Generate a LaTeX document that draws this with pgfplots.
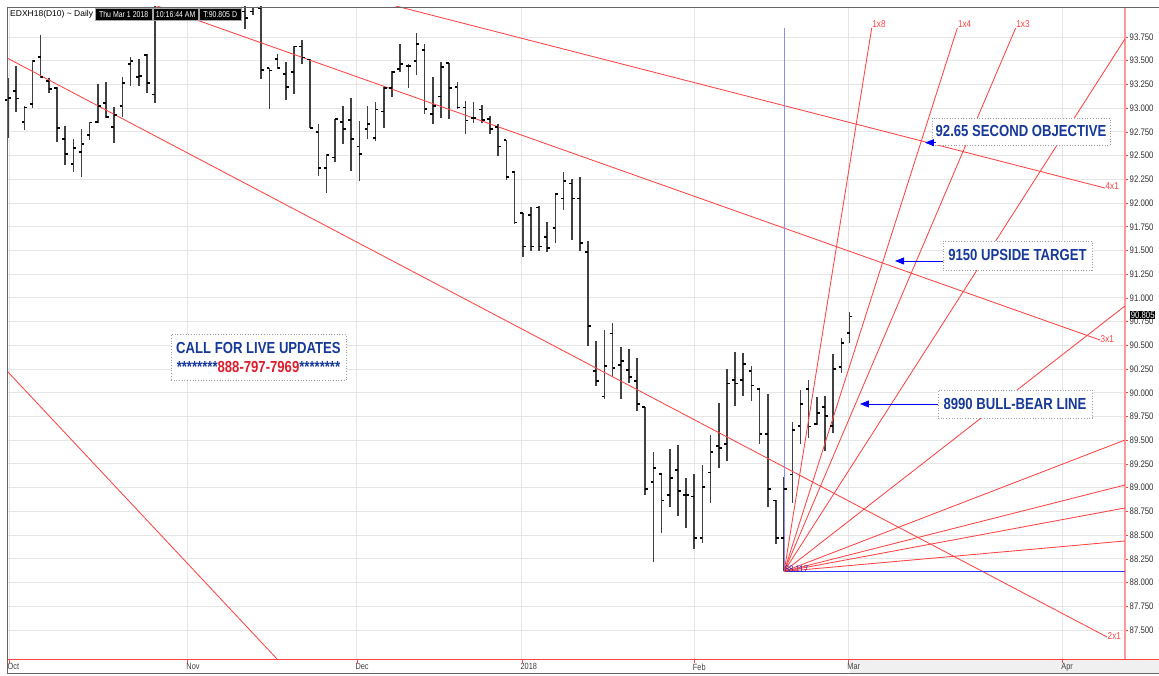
\documentclass[border=0pt]{standalone}
\usepackage{fontspec}
\setmainfont{Liberation Sans}
\newfontfamily\narrowfont[FakeStretch=0.82]{Liberation Sans}
\usepackage{pgfplots}
\pgfplotsset{compat=1.18}
\usepackage{pgfplotstable}
\usetikzlibrary{arrows.meta}

\definecolor{barcol}{HTML}{404040}
\definecolor{fanred}{HTML}{FF4444}
\definecolor{gridgray}{HTML}{E6E6E6}
\definecolor{navy}{HTML}{16399A}
\definecolor{phonered}{HTML}{DD1E2C}
\definecolor{bluev}{HTML}{8C8CF0}
\definecolor{blueh}{HTML}{3434FF}
\definecolor{framegray}{HTML}{666666}

\pgfdeclareplotmark{ohlcopen}{\pgfpathmoveto{\pgfqpoint{-2.8pt}{0pt}}\pgfpathlineto{\pgfqpoint{0pt}{0pt}}\pgfusepathqstroke}
\pgfdeclareplotmark{ohlcclose}{\pgfpathmoveto{\pgfqpoint{0pt}{0pt}}\pgfpathlineto{\pgfqpoint{2.8pt}{0pt}}\pgfusepathqstroke}

\pgfplotstableread{
x o h l c
0 93.086 93.318 92.685 93.107
1 93.181 93.444 92.960 93.097
2 92.854 93.023 92.770 93.002
3 93.044 93.508 93.002 93.497
4 93.539 93.771 93.318 93.328
5 93.286 93.318 93.160 93.202
6 93.212 93.223 92.643 92.791
7 92.675 92.812 92.401 92.517
8 92.411 92.675 92.327 92.580
9 92.538 92.780 92.274 92.622
10 92.717 92.854 92.664 92.844
11 92.854 93.255 92.844 93.023
12 93.054 93.276 92.896 92.907
13 92.801 93.012 92.633 92.928
14 93.023 93.328 92.907 93.265
15 93.465 93.539 93.234 93.497
16 93.328 93.518 93.234 93.339
17 93.560 93.571 93.160 93.265
18 93.139 94.350 93.054 93.950
29 94.014 94.300 93.834 93.950
30 94.014 94.066 93.982 94.056
31 94.050 94.250 93.307 93.402
32 93.423 93.423 92.991 93.392
33 93.518 93.571 93.413 93.423
34 93.360 93.487 93.086 93.223
35 93.381 93.655 93.149 93.645
36 93.645 93.718 93.465 93.529
37 93.508 93.518 92.791 92.791
38 92.749 92.833 92.285 92.369
39 92.369 92.517 92.106 92.506
40 92.475 92.886 92.433 92.886
41 92.854 93.023 92.622 92.780
42 92.875 93.107 92.338 92.675
43 92.591 92.865 92.232 92.517
44 92.780 93.023 92.675 92.833
45 92.685 93.065 92.654 92.981
46 92.960 93.223 92.791 93.212
47 93.212 93.392 93.118 93.381
48 93.413 93.676 93.381 93.465
49 93.444 93.465 93.212 93.444
50 93.497 93.792 93.350 93.676
51 93.613 93.676 92.938 92.991
52 92.938 93.328 92.833 93.023
53 93.118 93.487 92.896 93.434
54 93.476 93.476 92.886 93.212
55 93.223 93.276 92.991 93.002
56 93.002 93.075 92.728 92.865
57 92.896 93.065 92.844 92.896
58 92.981 93.033 92.844 92.875
59 92.886 92.918 92.728 92.780
60 92.801 92.833 92.496 92.591
61 92.664 92.664 92.243 92.274
62 92.327 92.338 91.779 91.790
63 91.895 91.895 91.431 91.537
64 91.874 91.958 91.494 91.537
65 91.948 91.969 91.494 91.537
66 91.642 91.800 91.484 91.526
67 91.737 92.106 91.579 92.095
68 92.043 92.327 91.927 92.232
69 92.201 92.253 91.610 92.043
70 92.043 92.274 91.494 91.579
71 91.484 91.600 90.493 90.704
72 90.230 90.546 90.072 90.124
73 89.956 90.662 89.935 90.282
74 90.620 90.736 90.166 90.261
75 90.293 90.483 89.935 90.335
76 90.240 90.462 90.103 90.166
77 90.124 90.367 89.808 89.882
78 89.850 89.850 88.923 88.986
79 89.060 89.376 88.217 89.207
80 89.144 89.144 88.522 88.860
81 88.923 89.408 88.796 89.102
82 89.186 89.450 88.701 88.965
83 88.923 89.102 88.575 88.923
84 88.902 89.144 88.354 88.469
85 88.469 89.239 88.417 89.007
86 89.155 89.555 88.838 89.376
87 89.439 89.892 89.207 89.418
88 89.460 90.251 89.281 90.093
89 90.135 90.430 89.861 90.093
90 90.135 90.419 89.966 90.303
91 90.230 90.282 89.913 90.072
92 90.040 90.040 89.460 89.566
93 89.566 89.987 88.796 88.986
94 88.860 88.870 88.406 88.469
95 88.469 89.112 88.117 88.986
96 89.134 89.692 88.838 89.608
97 89.650 90.029 89.460 89.882
98 90.040 90.135 89.523 89.640
99 89.671 89.956 89.661 89.787
100 89.850 89.966 89.387 89.755
101 89.650 90.409 89.576 90.251
102 90.272 90.578 90.209 90.525
103 90.630 90.852 90.525 90.805
}\ohlc

\begin{document}
\begin{tikzpicture}[x=1pt,y=1pt]
\useasboundingbox (0,0) rectangle (1159,675);
\fill[white] (0,0) rectangle (1159,675);
\fill[gray!12] (850,1.5) rectangle (1159,15.5);
\begin{axis}[
  at={(7pt,16pt)}, anchor=south west,
  scale only axis, width=1118pt, height=652pt,
  xmin=-0.122, xmax=136.72, ymin=87.194, ymax=94.066,
  axis x line*=bottom, axis y line*=right,
  x axis line style={draw=fanred, line width=0.8pt},
  y axis line style={draw=fanred!55, line width=1.6pt},
  tick align=outside, major tick length=3.5pt,
  tick style={draw=fanred, line width=0.6pt},
  xtick={0.12,22.0,42.7,62.9,84.0,102.9,129.1},
  xticklabels={Oct,Nov,Dec,2018,Feb,Mar,Apr},
  xticklabel style={anchor=north west, xshift=-2.5pt, font=\narrowfont\fontsize{9}{9}\selectfont, text=black!75, inner sep=1pt},
  ytick={87.5,87.75,...,93.8},
  yticklabel style={anchor=west, font=\narrowfont\fontsize{9.5}{9.5}\selectfont, text=black!80, inner sep=1pt},
  /pgf/number format/fixed, /pgf/number format/fixed zerofill,
  /pgf/number format/precision=3, /pgf/number format/assume math mode=true,
  scaled y ticks=false,
  grid=major, major grid style={draw=gridgray, line width=0.9pt},
]
% OHLC bars
\addplot[draw=none, mark=none, forget plot,
  error bars/.cd, y dir=plus, y explicit, error mark=none,
  error bar style={draw=barcol, line width=1.6pt, solid}]
  table[x=x, y=l, y error expr=\thisrow{h}-\thisrow{l}] {\ohlc};
\addplot[only marks, mark=ohlcopen, mark options={draw=black, line width=1.1pt}, forget plot] table[x=x, y=o] {\ohlc};
\addplot[only marks, mark=ohlcclose, mark options={draw=black, line width=1.1pt}, forget plot] table[x=x, y=c] {\ohlc};

% descending trend lines
\addplot[fanred, line width=0.85pt] coordinates {(40,94.242) (134.27,92.158)};
\addplot[fanred, line width=0.85pt] coordinates {(15,94.176) (133.66,90.556)};
\addplot[fanred, line width=0.85pt] coordinates {(-0.122,93.529) (134.52,87.426)};
\addplot[fanred, line width=0.85pt] coordinates {(-0.122,90.230) (34,87.096)};

% blue guide lines
\addplot[bluev, line width=0.9pt] coordinates {(95,93.845) (95,88.117)};
\addplot[blueh, line width=1.1pt] coordinates {(95,88.117) (136.72,88.117)};

% Gann fan from the low
\addplot[fanred, line width=0.85pt] coordinates {(95,88.117) (105.72,93.845)};
\addplot[fanred, line width=0.85pt] coordinates {(95,88.117) (116.2,93.845)};
\addplot[fanred, line width=0.85pt] coordinates {(95,88.117) (123.34,93.845)};
\addplot[fanred, line width=0.85pt] coordinates {(95,88.117) (136.72,93.73)};
\addplot[fanred, line width=0.85pt] coordinates {(95,88.117) (136.72,90.915)};
\addplot[fanred, line width=0.85pt] coordinates {(95,88.117) (136.72,89.502)};
\addplot[fanred, line width=0.85pt] coordinates {(95,88.117) (136.72,89.028)};
\addplot[fanred, line width=0.85pt] coordinates {(95,88.117) (136.72,88.786)};
\addplot[fanred, line width=0.85pt] coordinates {(95,88.117) (136.72,88.438)};

% line labels
\tikzset{fl/.style={text=fanred, font=\narrowfont\fontsize{10}{10}\selectfont, inner sep=0.5pt}}
\node[fl, anchor=south west] at (axis cs:105.72,93.845) {1x8};
\node[fl, anchor=south west] at (axis cs:116.2,93.845) {1x4};
\node[fl, anchor=south west] at (axis cs:123.34,93.845) {1x3};
\node[fl, anchor=west, yshift=1.5pt] at (axis cs:134.27,92.158) {4x1};
\node[fl, anchor=west, yshift=1pt] at (axis cs:133.66,90.556) {3x1};
\node[fl, anchor=west, yshift=1pt] at (axis cs:134.52,87.426) {2x1};
\node[anchor=west, text=blueh!70!black, font=\narrowfont\fontsize{9.5}{9.5}\selectfont, inner sep=0.5pt, yshift=2pt] at (axis cs:95,88.117) {88.117};

% annotations
\tikzset{annot/.style={draw=gray!75, dotted, line width=0.7pt, fill=white, text=navy,
  font=\narrowfont\bfseries\fontsize{16}{19}\selectfont, inner sep=0pt, align=center}}
\node[annot, minimum width=178pt, minimum height=27pt] at (axis cs:123.99,92.754) {92.65 SECOND OBJECTIVE};
\draw[blue, line width=0.8pt, -{Triangle[length=9pt,width=7pt]}] (axis cs:113.59,92.636) -- (axis cs:112.24,92.636);
\node[annot, minimum width=149pt, minimum height=29pt] at (axis cs:123.56,91.447) {9150 UPSIDE TARGET};
\draw[blue, line width=0.8pt, -{Triangle[length=9pt,width=7pt]}] (axis cs:114.44,91.389) -- (axis cs:108.57,91.389);
\node[annot, minimum width=154pt, minimum height=28pt] at (axis cs:123.26,89.882) {8990 BULL-BEAR LINE};
\draw[blue, line width=0.8pt, -{Triangle[length=9pt,width=7pt]}] (axis cs:113.83,89.882) -- (axis cs:104.28,89.882);
\node[annot, minimum width=175pt, minimum height=46pt] at (axis cs:30.66,90.372)
  {CALL FOR LIVE UPDATES\\ ********\textcolor{phonered}{888-797-7969}********};
\end{axis}

% header
\node[anchor=west, font=\fontsize{8.5}{8.5}\selectfont, inner sep=0pt] at (10,660.5) {EDXH18(D10) \textasciitilde{} Daily};
\tikzset{hb/.style={fill=black, draw=gray!70, line width=0.4pt, text=white, font=\narrowfont\fontsize{8.5}{8.5}\selectfont, anchor=west, inner sep=0.5pt, minimum height=12pt}}
\node[hb, minimum width=57pt] at (95,660.5) {Thu Mar 1 2018};
\node[hb, minimum width=45pt] at (153,660.5) {10:16:44 AM};
\node[hb, minimum width=42pt] at (199,660.5) {T:90.805 D};

% last price box (covers part of the 90.750 label, as in the original)
\node[fill=black, text=white, font=\narrowfont\fontsize{9.5}{9.5}\selectfont, anchor=west, inner sep=0.6pt] at (1130,360) {90.805};

% frame
\draw[fanred, line width=0.8pt] (7,16) -- (1159,16);
\draw[framegray, line width=0.9pt] (7,668) -- (1159,668);
\draw[framegray, line width=0.9pt] (7,668) -- (7,1.5);
\draw[framegray, line width=0.9pt] (7,1.5) -- (1159,1.5);
\end{tikzpicture}
\end{document}
